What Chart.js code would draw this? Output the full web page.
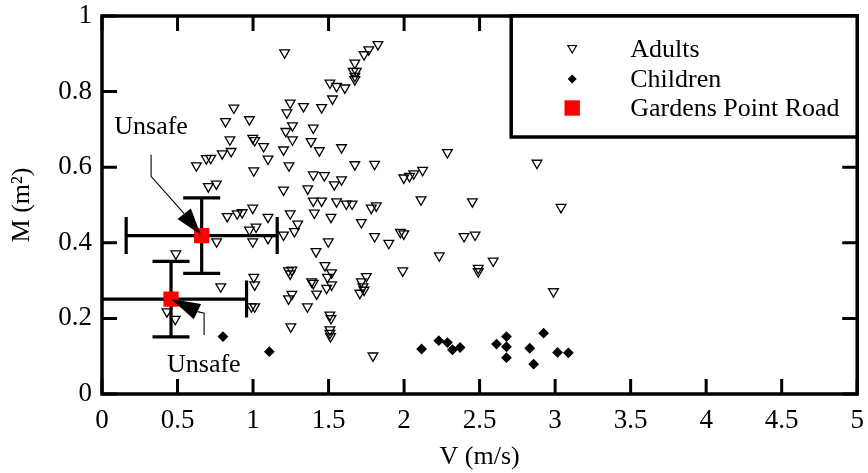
<!DOCTYPE html>
<html><head><meta charset="utf-8">
<script src="https://cdn.jsdelivr.net/npm/chart.js@4.4.1/dist/chart.umd.min.js"></script>
<style>html,body{margin:0;padding:0;background:#fff;} #wrap{position:relative;width:868px;height:473px;}</style>
</head><body><div id="wrap"><canvas id="c"></canvas></div>
<script>
// ---- data ----
const xTicks = [0, 0.5, 1, 1.5, 2, 2.5, 3, 3.5, 4, 4.5, 5];
const yTicks = [0, 0.2, 0.4, 0.6, 0.8, 1];

const adultsV = [1.209,0.873,0.818,0.976,0.847,0.998,1.011,1.070,0.855,0.796,1.099,0.720,0.691,0.625,1.005,0.757,0.704,1.202,1.246,1.224,1.261,1.217,1.261,1.202,1.238,
1.827,1.766,1.735,1.674,1.663,1.684,1.674,1.674,1.509,1.553,1.608,1.526,1.334,1.454,1.399,1.384,1.439,1.586,1.674,1.805,1.399,1.472,1.586,1.538,1.362,1.998,2.036,2.064,2.123,2.287,2.112,2.452,2.880,3.039,2.397,2.470,2.590,2.491,2.491,2.989,2.233,1.991,
1.399,1.454,1.553,1.618,1.656,1.783,1.816,1.246,1.406,1.516,1.296,1.274,1.202,1.717,1.805,1.899,1.976,1.998,1.498,1.417,1.476,1.520,1.493,1.520,1.487,1.421,1.388,1.399,1.235,1.257,1.246,1.257,1.235,1.360,1.250,1.509,1.516,1.509,1.509,1.513,1.717,1.750,1.728,1.735,1.707,1.794,
0.829,0.895,0.928,0.998,1.099,0.976,1.020,0.759,0.998,1.099,0.786,1.005,1.011,0.989,1.011,0.489,0.430,0.485];
const adultsM = [0.903,0.757,0.721,0.726,0.673,0.677,0.671,0.655,0.642,0.636,0.622,0.624,0.623,0.604,0.591,0.556,0.549,0.540,0.770,0.744,0.710,0.695,0.673,0.646,0.604,
0.925,0.911,0.898,0.876,0.854,0.854,0.841,0.832,0.823,0.814,0.810,0.781,0.761,0.758,0.704,0.668,0.644,0.652,0.607,0.608,0.580,0.578,0.567,0.554,0.543,0.572,0.576,0.583,0.592,0.639,0.514,0.509,0.611,0.494,0.417,0.421,0.352,0.333,0.324,0.271,0.366,0.326,
0.511,0.511,0.509,0.503,0.503,0.492,0.498,0.477,0.479,0.468,0.450,0.430,0.421,0.454,0.417,0.399,0.428,0.424,0.403,0.377,0.340,0.321,0.309,0.289,0.280,0.265,0.297,0.293,0.326,0.328,0.318,0.264,0.252,0.231,0.178,0.209,0.200,0.170,0.161,0.152,0.297,0.311,0.284,0.275,0.267,0.101,
0.470,0.477,0.480,0.492,0.468,0.434,0.442,0.403,0.403,0.412,0.284,0.309,0.289,0.231,0.231,0.371,0.218,0.198];

const childrenV = [0.801,1.108,2.116,2.230,2.287,2.320,2.371,2.612,2.678,2.678,2.678,2.832,2.924,2.858,3.016,3.088];
const childrenM = [0.152,0.112,0.119,0.141,0.136,0.117,0.123,0.132,0.152,0.125,0.096,0.121,0.161,0.079,0.110,0.109];

const roadV = [0.66, 0.457];
const roadM = [0.419, 0.251];
const roadVErr = [0.5, 0.5];
const roadMErr = [0.1, 0.1];

const seriesNames = ['Adults', 'Children', 'Gardens Point Road'];
const annotationText = 'Unsafe';
// annotation anchors in data units: text position, leader path, arrow tip
const noteTop = {text: [0.325, 0.707], path: [[0.325,0.633],[0.325,0.576],[0.544,0.477]], tip: [0.654,0.421]};
const noteBottom = {text: [0.674, 0.076], path: [[0.676,0.156],[0.676,0.214],[0.632,0.218]], tip: [0.457,0.251]};

// ---- rendering ----
const FONT = "'Liberation Serif', 'Times New Roman', Times, serif";
Chart.defaults.font.family = FONT;
Chart.defaults.color = '#000';

function toPts(a, b) { return a.map((v, i) => ({x: v, y: b[i]})); }

function triDown(ctx, x, y, r) {
  ctx.beginPath();
  ctx.moveTo(x, y + r);
  ctx.lineTo(x + r * Math.sin(2*Math.PI/3), y - r * 0.5);
  ctx.lineTo(x - r * Math.sin(2*Math.PI/3), y - r * 0.5);
  ctx.closePath();
}

const overlay = {
  id: 'overlay',
  beforeDatasetsDraw(chart) {
    const {ctx, chartArea: a, scales: {x: xs, y: ys}} = chart;
    ctx.save();
    ctx.beginPath(); ctx.rect(a.left, a.top, a.right - a.left, a.bottom - a.top); ctx.clip();
    ctx.strokeStyle = '#000'; ctx.lineWidth = 3.2; ctx.lineCap = 'butt';
    const cap = 18.5;
    for (let i = 0; i < roadV.length; i++) {
      const cx = xs.getPixelForValue(roadV[i]), cy = ys.getPixelForValue(roadM[i]);
      const x1 = xs.getPixelForValue(roadV[i] - roadVErr[i]), x2 = xs.getPixelForValue(roadV[i] + roadVErr[i]);
      const y1 = ys.getPixelForValue(roadM[i] - roadMErr[i]), y2 = ys.getPixelForValue(roadM[i] + roadMErr[i]);
      ctx.beginPath();
      ctx.moveTo(x1, cy); ctx.lineTo(x2, cy);
      ctx.moveTo(x1, cy - cap); ctx.lineTo(x1, cy + cap);
      ctx.moveTo(x2, cy - cap); ctx.lineTo(x2, cy + cap);
      ctx.moveTo(cx, y1); ctx.lineTo(cx, y2);
      ctx.moveTo(cx - cap, y1); ctx.lineTo(cx + cap, y1);
      ctx.moveTo(cx - cap, y2); ctx.lineTo(cx + cap, y2);
      ctx.stroke();
    }
    ctx.restore();
  },
  afterDatasetsDraw(chart) {
    const {ctx, chartArea: a, scales: {x: xs, y: ys}} = chart;
    ctx.save();
    // annotations
    for (const n of [noteTop, noteBottom]) {
      const pts = n.path.map(p => [xs.getPixelForValue(p[0]), ys.getPixelForValue(p[1])]);
      const t = [xs.getPixelForValue(n.tip[0]), ys.getPixelForValue(n.tip[1])];
      ctx.strokeStyle = '#000'; ctx.lineWidth = 1.1;
      ctx.beginPath(); ctx.moveTo(pts[0][0], pts[0][1]);
      for (let k = 1; k < pts.length; k++) ctx.lineTo(pts[k][0], pts[k][1]);
      ctx.stroke();
      const b = pts[pts.length - 1];
      const dx = t[0] - b[0], dy = t[1] - b[1], len = Math.hypot(dx, dy);
      const nx = -dy / len, ny = dx / len, hw = 8.5;
      ctx.fillStyle = '#000';
      ctx.beginPath(); ctx.moveTo(t[0], t[1]);
      ctx.lineTo(b[0] + nx * hw, b[1] + ny * hw); ctx.lineTo(b[0] - nx * hw, b[1] - ny * hw);
      ctx.closePath(); ctx.fill();
      ctx.font = '26px ' + FONT; ctx.textAlign = 'center'; ctx.textBaseline = 'middle';
      ctx.fillText(annotationText, xs.getPixelForValue(n.text[0]), ys.getPixelForValue(n.text[1]));
    }
    // frame
    ctx.strokeStyle = '#000'; ctx.lineWidth = 3.5;
    ctx.strokeRect(a.left, a.top, a.right - a.left, a.bottom - a.top);
    // inward ticks on all sides
    ctx.lineWidth = 3; const tl = 15;
    ctx.beginPath();
    for (const v of xTicks) {
      const px = xs.getPixelForValue(v);
      ctx.moveTo(px, a.bottom); ctx.lineTo(px, a.bottom - tl);
      ctx.moveTo(px, a.top); ctx.lineTo(px, a.top + tl);
    }
    for (const v of yTicks) {
      const py = ys.getPixelForValue(v);
      ctx.moveTo(a.left, py); ctx.lineTo(a.left + tl, py);
      ctx.moveTo(a.right, py); ctx.lineTo(a.right - tl, py);
    }
    ctx.stroke();
    // legend
    const lw = 346, lh = 121;
    const lx = a.right - lw, ly = a.top;
    ctx.fillStyle = '#fff'; ctx.fillRect(lx, ly, lw, lh);
    ctx.strokeStyle = '#000'; ctx.lineWidth = 3.5; ctx.strokeRect(lx, ly, lw, lh);
    const mx = lx + 61, tx = lx + 119, rows = [ly + 33, ly + 63, ly + 92];
    ctx.lineWidth = 1.2; ctx.strokeStyle = '#000';
    triDown(ctx, mx, rows[0] - 1, 5); ctx.stroke();
    ctx.fillStyle = '#000';
    ctx.beginPath(); ctx.moveTo(mx, rows[1] - 4.5); ctx.lineTo(mx + 4.5, rows[1]); ctx.lineTo(mx, rows[1] + 4.5); ctx.lineTo(mx - 4.5, rows[1]); ctx.closePath(); ctx.fill();
    ctx.fillStyle = '#ff0000'; ctx.fillRect(mx - 7.7, rows[2] - 7.7, 15.4, 15.4);
    ctx.fillStyle = '#000'; ctx.font = '26px ' + FONT; ctx.textAlign = 'left'; ctx.textBaseline = 'middle';
    seriesNames.forEach((s, i) => ctx.fillText(s, tx, rows[i] + 1));
    ctx.restore();
  }
};

new Chart(document.getElementById('c'), {
  type: 'scatter',
  data: {
    datasets: [
      {label: seriesNames[0], data: toPts(adultsV, adultsM), pointStyle: 'triangle', rotation: 180, radius: 5.6,
       borderColor: '#000', backgroundColor: 'rgba(0,0,0,0)', borderWidth: 1.3, order: 2},
      {label: seriesNames[1], data: toPts(childrenV, childrenM), pointStyle: 'rectRot', radius: 5.4,
       borderColor: '#000', backgroundColor: '#000', borderWidth: 0, order: 1},
      {label: seriesNames[2], data: toPts(roadV, roadM), pointStyle: 'rect', radius: 10.8,
       borderColor: '#ff0000', backgroundColor: '#ff0000', borderWidth: 0, order: 0}
    ]
  },
  options: {
    responsive: true, maintainAspectRatio: false, animation: false, devicePixelRatio: 1,
    layout: {padding: {left: 0, right: 6, top: 16, bottom: 0}},
    plugins: {legend: {display: false}, tooltip: {enabled: false}},
    events: [],
    scales: {
      x: {
        type: 'linear', min: 0, max: 5, position: 'bottom',
        afterBuildTicks: s => { s.ticks = xTicks.map(v => ({value: v})); },
        ticks: {font: {size: 27}, color: '#000', padding: 11, maxRotation: 0, autoSkip: false, callback: v => String(v)},
        grid: {display: false, drawTicks: false},
        border: {display: false},
        title: {display: true, text: 'V (m/s)', font: {size: 26}, color: '#000', padding: {top: 0, bottom: 0}},
        afterFit: s => { s.height = 79; s.paddingLeft = 0; s.paddingRight = 0; }
      },
      y: {
        type: 'linear', min: 0, max: 1, position: 'left',
        afterBuildTicks: s => { s.ticks = yTicks.map(v => ({value: v})); },
        ticks: {font: {size: 27}, color: '#000', padding: 10, autoSkip: false, callback: v => String(v)},
        grid: {display: false, drawTicks: false},
        border: {display: false},
        title: {display: true, text: 'M (m²)', font: {size: 26}, color: '#000', padding: {top: 7, bottom: 0}},
        afterFit: s => { s.width = 102; s.paddingTop = 0; s.paddingBottom = 0; }
      }
    }
  },
  plugins: [overlay]
});
</script></body></html>
